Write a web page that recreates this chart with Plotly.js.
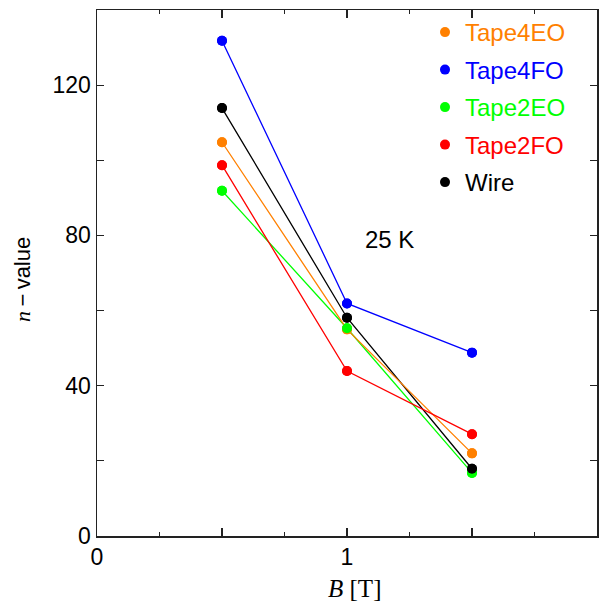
<!DOCTYPE html>
<html>
<head>
<meta charset="utf-8">
<script src="https://cdn.plot.ly/plotly-3.0.1.min.js"></script>
<style>html,body{margin:0;padding:0;background:#fff;}#chart{width:603px;height:604px;}</style>
</head>
<body>
<div id="chart"></div>
<script>
// Data
const B = [0.5, 1.0, 1.5];
const seriesNames = ["Tape4EO", "Tape4FO", "Tape2EO", "Tape2FO", "Wire"];
const tape4EO = [104.8, 55.0, 22.0];
const tape4FO = [131.8, 61.9, 48.8];
const tape2EO = [91.9, 55.3, 16.8];
const tape2FO = [98.7, 43.9, 27.1];
const wire = [113.9, 58.1, 17.9];
const colors = ["#ff8000", "#0000ff", "#00ff00", "#ff0000", "#000000"];
const xTickVals = [0, 0.5, 1, 1.5, 2];
const xTickText = ["0", "", "1", "", "2"];
const yTickVals = [0, 20, 40, 60, 80, 100, 120, 140];
const yTickText = ["0", "", "40", "", "80", "", "120", ""];
const labelText = "25 K";
const labelPos = [1.168, 79];
const xTitle = "<i>B</i> [T]";
const yTitle = '<i style="font-family:Liberation Serif, Times New Roman, serif">n</i>\u2009\u2212\u2009value';

const values = [tape4EO, tape4FO, tape2EO, tape2FO, wire];
// draw order (bottom to top)
const drawOrder = [4, 2, 0, 3, 1];
const traces = [];
drawOrder.forEach(function (i) {
  traces.push({
    x: B, y: values[i], type: "scatter", mode: "lines+markers",
    line: {color: colors[i], width: 1.3},
    marker: {color: colors[i], size: 10},
    showlegend: false, legendgroup: seriesNames[i], hoverinfo: "skip"
  });
});
// legend entries (dots only)
seriesNames.forEach(function (n, i) {
  traces.push({
    x: B, y: values[i], type: "scatter", mode: "markers",
    marker: {color: colors[i], size: 10},
    name: '<span style="color:' + colors[i] + '">' + n + '</span>',
    legendgroup: n, legendrank: i + 1, showlegend: true
  });
});

const axisCommon = {
  showgrid: false, zeroline: false, showline: true, linecolor: "#222", linewidth: 1.5,
  mirror: "ticks", ticks: "inside", tickcolor: "#222", tickwidth: 1.2,
  tickfont: {family: "Liberation Sans, Arial, sans-serif", size: 23, color: "#000"}
};

const layout = {
  width: 603, height: 604,
  margin: {l: 97, r: 6, t: 10, b: 68},
  paper_bgcolor: "#fff", plot_bgcolor: "#fff",
  showlegend: true,
  legend: {
    x: 0.656, xanchor: "left", y: 1.0, yanchor: "top",
    bgcolor: "rgba(0,0,0,0)", borderwidth: 0,
    font: {family: "Liberation Sans, Arial, sans-serif", size: 24, color: "#000"},
    traceorder: "grouped", tracegroupgap: 3.3, itemwidth: 30
  },
  xaxis: Object.assign({}, axisCommon, {
    range: [0, 2], tickmode: "array", tickvals: xTickVals, ticktext: xTickText, ticklen: 8,
    minor: {dtick: 0.25, tick0: 0, ticks: "inside", ticklen: 4, tickcolor: "#222", tickwidth: 1.2}
  }),
  yaxis: Object.assign({}, axisCommon, {
    range: [0, 140], tickmode: "array", tickvals: yTickVals, ticktext: yTickText, ticklen: 7
  }),
  annotations: [{
    x: labelPos[0], y: labelPos[1], xref: "x", yref: "y", text: labelText, showarrow: false,
    font: {family: "Liberation Sans, Arial, sans-serif", size: 24, color: "#000"}
  }, {
    x: 0.514, y: -0.099, xref: "paper", yref: "paper", text: xTitle, showarrow: false,
    xanchor: "center", yanchor: "middle",
    font: {family: "Liberation Serif, Times New Roman, serif", size: 25, color: "#000"}
  }, {
    x: -0.149, y: 0.4876, xref: "paper", yref: "paper", text: yTitle, showarrow: false,
    textangle: -90, xanchor: "center", yanchor: "middle",
    font: {family: "Liberation Sans, Arial, sans-serif", size: 22, color: "#000"}
  }]
};

Plotly.newPlot("chart", traces, layout, {staticPlot: true, displayModeBar: false});
</script>
</body>
</html>
